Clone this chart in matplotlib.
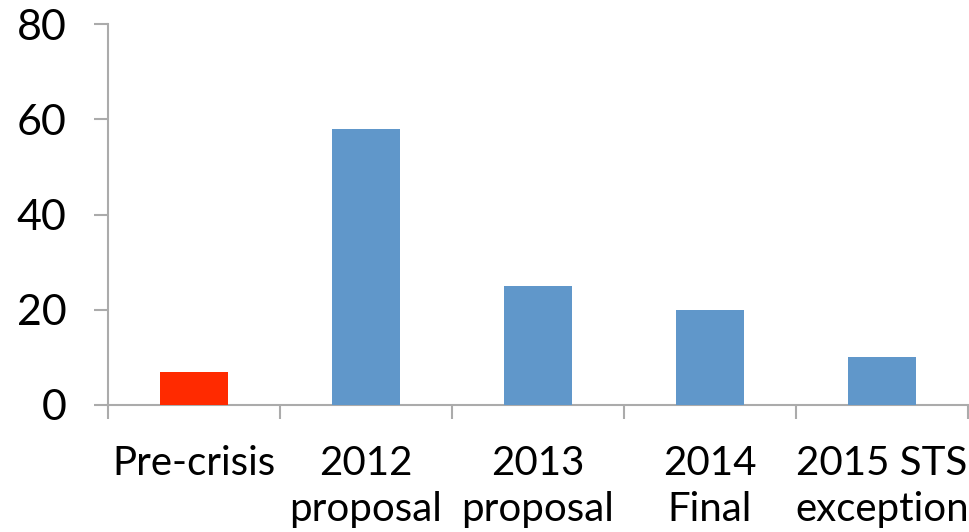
import matplotlib

matplotlib.use("Agg")

import matplotlib.pyplot as plt
import numpy as np

categories = ["Pre-crisis", "2012\nproposal", "2013\nproposal", "2014\nFinal", "2015 STS\nexception"]
values = [7, 58, 25, 20, 10]
bar_colors = ["#ff2a00", "#6097ca", "#6097ca", "#6097ca", "#6097ca"]
y_ticks = [0, 20, 40, 60, 80]

plt.rcParams.update({
    "font.family": ["Lato", "DejaVu Sans"],
    "font.size": 29,
})

AXIS_GREY = "#ababab"

fig = plt.figure(figsize=(9.69, 5.32), dpi=100)
ax = fig.add_axes([108 / 969, 1 - 405 / 532, 860 / 969, (405 - 24) / 532])

x = np.arange(len(categories))
ax.bar(x, values, width=0.4, color=bar_colors, zorder=3)

ax.set_xlim(-0.5, len(categories) - 0.5)
ax.set_ylim(0, 80)
ax.set_yticks(y_ticks)
ax.set_yticklabels([str(t) for t in y_ticks], fontsize=31)

# category labels sit between the boundary ticks
ax.set_xticks(x)
ax.set_xticklabels(categories, linespacing=1.3)
ax.set_xticks(np.arange(len(categories) + 1) - 0.5, minor=True)
ax.tick_params(axis="x", which="major", length=0, pad=29)
ax.tick_params(axis="x", which="minor", length=10, width=1.5, color=AXIS_GREY, direction="out")
ax.tick_params(axis="y", length=10, width=1.5, color=AXIS_GREY, pad=20)

for side in ("top", "right"):
    ax.spines[side].set_visible(False)
for side in ("left", "bottom"):
    ax.spines[side].set_color(AXIS_GREY)
    ax.spines[side].set_linewidth(1.5)

fig.savefig("out.png", dpi=100)
plt.close(fig)
